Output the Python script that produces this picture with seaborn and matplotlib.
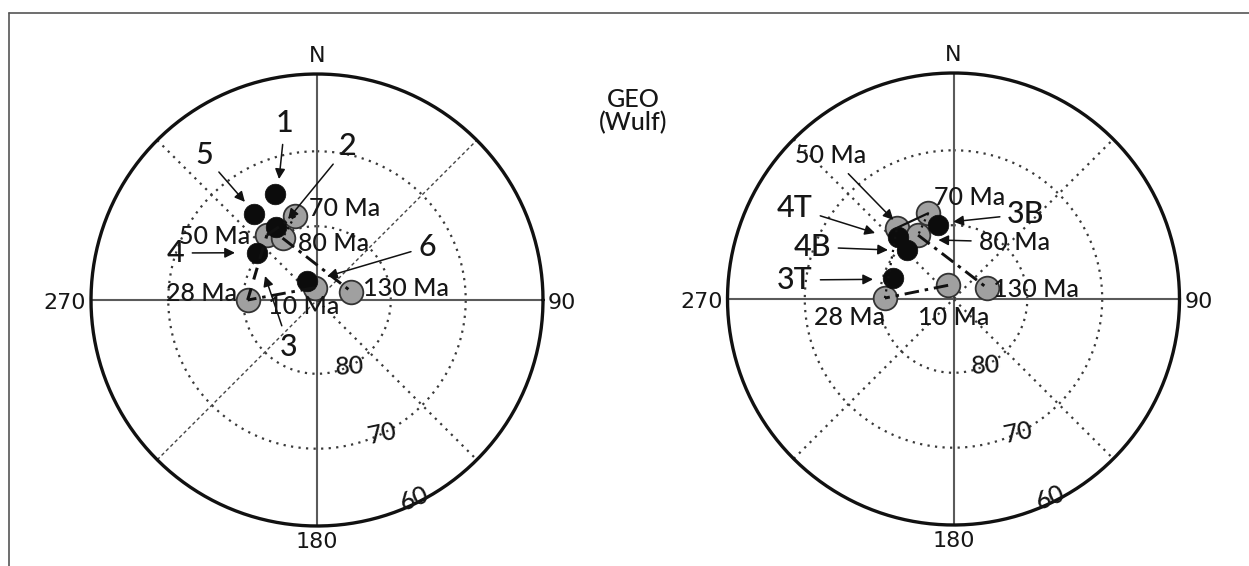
import numpy as np
import matplotlib
matplotlib.use("Agg")
import matplotlib.pyplot as plt
from matplotlib.lines import Line2D
import seaborn as sns

# ── pole positions: azimuth (deg from N) and latitude (deg) ──────────────────
AGES = [10, 28, 50, 70, 80, 130]

L_GRAY_AZ = [350.5, 270.0, 322.3, 345.4, 330.9, 76.3]
L_GRAY_LAT = [88.3, 80.6, 78.9, 78.2, 80.4, 85.2]
L_BLACK_ID = ["1", "5", "2", "4", "6"]
L_BLACK_AZ = [338.4, 323.8, 330.6, 308.1, 330.6]
L_BLACK_LAT = [74.6, 75.6, 78.6, 79.7, 87.1]

R_GRAY_AZ = [338.6, 270.8, 321.5, 343.5, 331.0, 71.8]
R_GRAY_LAT = [88.0, 80.7, 77.7, 77.9, 80.1, 85.2]
R_BLACK_ID = ["3B", "4T", "4B", "3T"]
R_BLACK_AZ = [348.2, 318.2, 316.5, 289.1]
R_BLACK_LAT = [79.8, 78.7, 80.8, 81.3]

GRID_LATS = [80, 70]
RIM_LAT = 60
GRID_LABELS = ["80", "70", "60"]
GRID_LABEL_LAT = [80, 70, 60.6]
GRID_LABEL_ROT = [4, 12, 22]
GRID_LABEL_AZ = 154

# path between ages: (from, to, style)
L_PATH = [(10, 28, "dashdot"), (28, 50, "dashed"), (50, 70, "dashdot"),
          (70, 80, "dotted"), (80, 130, "dashdot")]
R_PATH = [(10, 28, "dashdot"), (28, 50, "dotted"), (50, 70, "solid"),
          (70, 80, "dotted"), (80, 130, "dashdot")]

# ── layout (pixels) ─────────────────────────────────────────────────────────
W, H = 1249, 566
R_PX = 226
TXT = "#161616"
LS = {
    "dashdot": dict(ls=(0, (5, 2, 1.2, 2)), lw=2.1),
    "dashed": dict(ls=(0, (4, 3)), lw=2.2),
    "dotted": dict(ls=(0, (1, 2)), lw=1.6),
    "solid": dict(ls="-", lw=1.6),
}
GRID_LS = dict(color="#3a3a3a", lw=1.6, ls=(0, (1, 2.4)), zorder=1)

sns.set_style("white")
plt.rcParams["font.family"] = ["Lato", "DejaVu Sans"]
plt.rcParams["font.weight"] = 500
NARROW = ["Liberation Sans Narrow", "DejaVu Sans"]


def wulff(az, lat):
    az = np.radians(np.asarray(az, float))
    colat = np.radians(90 - np.asarray(lat, float))
    r = np.tan(colat / 2) / np.tan(np.radians((90 - RIM_LAT) / 2))
    return r * np.sin(az), r * np.cos(az)


fig = plt.figure(figsize=(W / 100, H / 100), dpi=100)


def make_ax(cx, cy):
    ax = fig.add_axes([0, 0, 1, 1])
    ax.set_xlim(-cx / R_PX, (W - cx) / R_PX)
    ax.set_ylim((cy - H) / R_PX, cy / R_PX)
    ax.axis("off")
    ax.patch.set_alpha(0)
    return ax


def draw_net(ax, fine_ne=False):
    t = np.linspace(0, 2 * np.pi, 500)
    ax.plot(np.cos(t), np.sin(t), color="#111111", lw=2.4, zorder=2)
    for lat in GRID_LATS:
        x, y = wulff(np.linspace(0, 360, 500), np.full(500, lat))
        ax.plot(x, y, **GRID_LS)
    ax.plot([-1, 1], [0, 0], color="#5a5a5a", lw=1.5, zorder=1)
    ax.plot([0, 0], [-1, 1], color="#5a5a5a", lw=1.5, zorder=1)
    d = np.sqrt(0.5)
    ax.plot([-d, d], [d, -d], **GRID_LS)
    if fine_ne:
        ax.plot([-d, d], [-d, d], color="#444444", lw=1.0, ls=(0, (2.5, 2)), zorder=1)
    else:
        ax.plot([-d, d], [-d, d], **GRID_LS)

    kw = dict(ha="center", va="center", fontsize=16, color=TXT, family=NARROW)
    ax.text(0, 1.08, "N", **kw)
    ax.text(0, -1.072, "180", **kw)
    ax.text(-1.115, -0.015, "270", **kw)
    ax.text(1.085, -0.015, "90", **kw)

    for lab, lat, rot in zip(GRID_LABELS, GRID_LABEL_LAT, GRID_LABEL_ROT):
        x, y = wulff(GRID_LABEL_AZ, lat)
        ax.text(x, y, lab, ha="center", va="center", fontsize=18,
                color=TXT, rotation=rot, zorder=6)


def draw_poles(ax, g_az, g_lat, b_az, b_lat, path):
    gx, gy = wulff(g_az, g_lat)
    bx, by = wulff(b_az, b_lat)
    sns.scatterplot(x=gx, y=gy, ax=ax, s=290, color="#a0a0a0",
                    edgecolor="#333333", linewidth=1.3, zorder=3, legend=False)
    sns.scatterplot(x=bx, y=by, ax=ax, s=220, color="#0c0c0c",
                    edgecolor="#0c0c0c", linewidth=0.5, zorder=4, legend=False)
    idx = {a: i for i, a in enumerate(AGES)}
    for a0, a1, style in path:
        i, j = idx[a0], idx[a1]
        ax.plot([gx[i], gx[j]], [gy[i], gy[j]], color="#111111",
                zorder=5, **LS[style])


def note(ax, text, xy_text, tip=None, size=22):
    if tip is None:
        ax.text(*xy_text, text, ha="center", va="center", fontsize=size,
                color=TXT, zorder=7)
    else:
        ax.annotate(text, xy=tip, xytext=xy_text, ha="center", va="center",
                    fontsize=size, color=TXT, zorder=7,
                    arrowprops=dict(arrowstyle="-|>", color="#111111", lw=1.1,
                                    mutation_scale=15, shrinkA=3, shrinkB=0))


MA = 18

# ── left net ─────────────────────────────────────────────────────────────────
axL = make_ax(317, 300)
draw_net(axL, fine_ne=True)
draw_poles(axL, L_GRAY_AZ, L_GRAY_LAT, L_BLACK_AZ, L_BLACK_LAT, L_PATH)

note(axL, "1", (-0.142, 0.783), (-0.168, 0.535))
note(axL, "5", (-0.500, 0.642), (-0.319, 0.434))
note(axL, "2", (0.137, 0.681), (-0.128, 0.358))
note(axL, "4", (-0.624, 0.208), (-0.363, 0.209))
note(axL, "3", (-0.124, -0.208), (-0.230, 0.106))
note(axL, "6", (0.487, 0.235), (0.044, 0.104))

note(axL, "70 Ma", (0.124, 0.403), size=MA)
note(axL, "50 Ma", (-0.451, 0.283), size=MA)
note(axL, "80 Ma", (0.075, 0.248), size=MA)
note(axL, "130 Ma", (0.394, 0.049), size=MA)
note(axL, "28 Ma", (-0.509, 0.027), size=MA)
note(axL, "10 Ma", (-0.058, -0.029), size=MA)

# ── right net ────────────────────────────────────────────────────────────────
axR = make_ax(953.5, 299)
draw_net(axR)
draw_poles(axR, R_GRAY_AZ, R_GRAY_LAT, R_BLACK_AZ, R_BLACK_LAT, R_PATH)

note(axR, "50 Ma", (-0.542, 0.633), (-0.266, 0.350), size=MA)
note(axR, "4T", (-0.701, 0.403), (-0.347, 0.292))
note(axR, "4B", (-0.626, 0.230), (-0.290, 0.217))
note(axR, "3T", (-0.701, 0.084), (-0.356, 0.087))
note(axR, "3B", (0.321, 0.376), (-0.001, 0.342))
note(axR, "80 Ma", (0.268, 0.252), (-0.067, 0.261), size=MA)
note(axR, "70 Ma", (0.073, 0.447), size=MA)
note(axR, "130 Ma", (0.365, 0.044), size=MA)
note(axR, "28 Ma", (-0.458, -0.084), size=MA)
note(axR, "10 Ma", (0.002, -0.084), size=MA)

# ── title and frame ─────────────────────────────────────────────────────────
fig.text(633 / W, 1 - 111 / H, "GEO\n(Wulf)", ha="center", va="center",
         fontsize=18, color=TXT, linespacing=1.0)
fig.add_artist(Line2D([9 / W, 1], [1 - 12.6 / H] * 2, transform=fig.transFigure,
                      color="#555555", lw=1.2))
fig.add_artist(Line2D([9 / W, 9 / W], [0, 1 - 12.6 / H], transform=fig.transFigure,
                      color="#555555", lw=1.2))

fig.savefig("out.png", dpi=100, facecolor="white")
